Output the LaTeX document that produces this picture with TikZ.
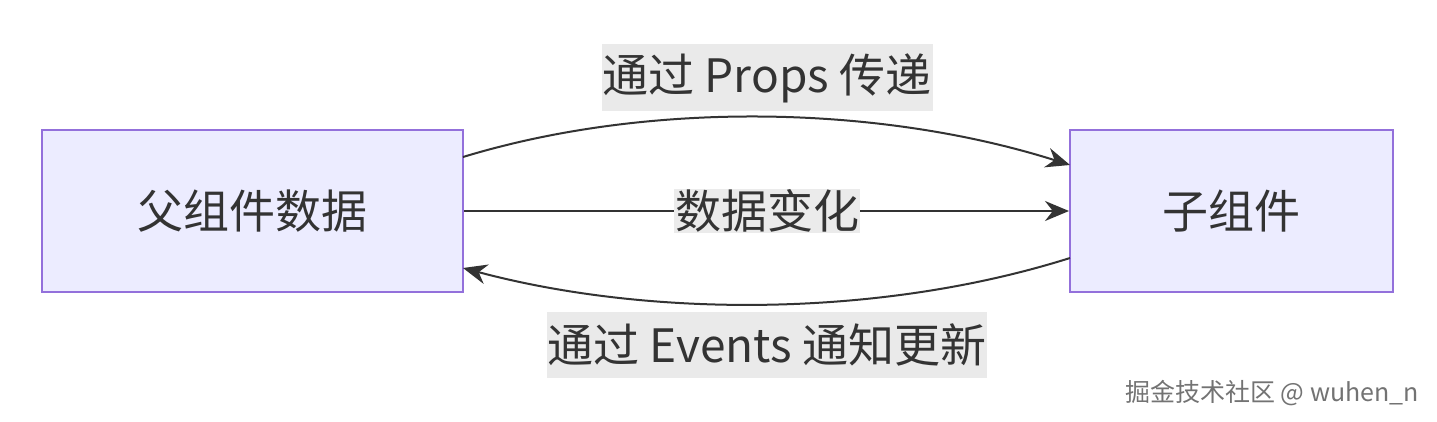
\documentclass[tikz,border=0pt]{standalone}
\usepackage{fontspec}
\setmainfont{Noto Sans CJK SC}
\usetikzlibrary{arrows.meta}
\definecolor{nfill}{HTML}{ECECFF}
\definecolor{nline}{HTML}{9370DB}
\definecolor{ink}{HTML}{333333}
\begin{document}
\begin{tikzpicture}[x=1pt,y=-1pt,
  box/.style={draw=nline,line width=2pt,fill=nfill,minimum width=421pt,minimum height=162pt,inner sep=0,text=ink,font=\fontsize{46}{54}\selectfont},
  conn/.style={draw=ink,line width=2pt,-{Stealth[length=24pt,width=20pt]}},
  lab/.style={fill=black!9,fill opacity=0.9,text opacity=1,text=ink,inner sep=1pt,font=\fontsize{46}{54}\selectfont}]
\useasboundingbox (0,0) rectangle (1437,422);
\fill[white] (0,0) rectangle (1437,422);
\node[box] (p) at (252.5,211) {父组件数据};
\node[box,minimum width=323pt] (c) at (1231.5,211) {子组件};
\coordinate (a1) at (463,157); \coordinate (a2) at (1070,165);
\coordinate (b1) at (1070,258); \coordinate (b2) at (463,268);
\draw[conn] (a1) .. controls (650,100) and (880,105) .. (a2);
\draw[conn] (p.east) -- (c.west);
\draw[conn] (b1) .. controls (880,318) and (650,318) .. (b2);
\node[lab,minimum height=67pt] (l1) at (767,78) {通过 Props 传递};
\node[lab,fill opacity=1,fill=black!8] (l2) at (767,211) {数据变化};
\node[lab,minimum height=66pt] (l3) at (767,345) {通过 Events 通知更新};
\node[text=black!55,font=\fontsize{25}{30}\selectfont] (w) at (1272,393) {掘金技术社区 @ wuhen\_n};
\end{tikzpicture}
\end{document}
